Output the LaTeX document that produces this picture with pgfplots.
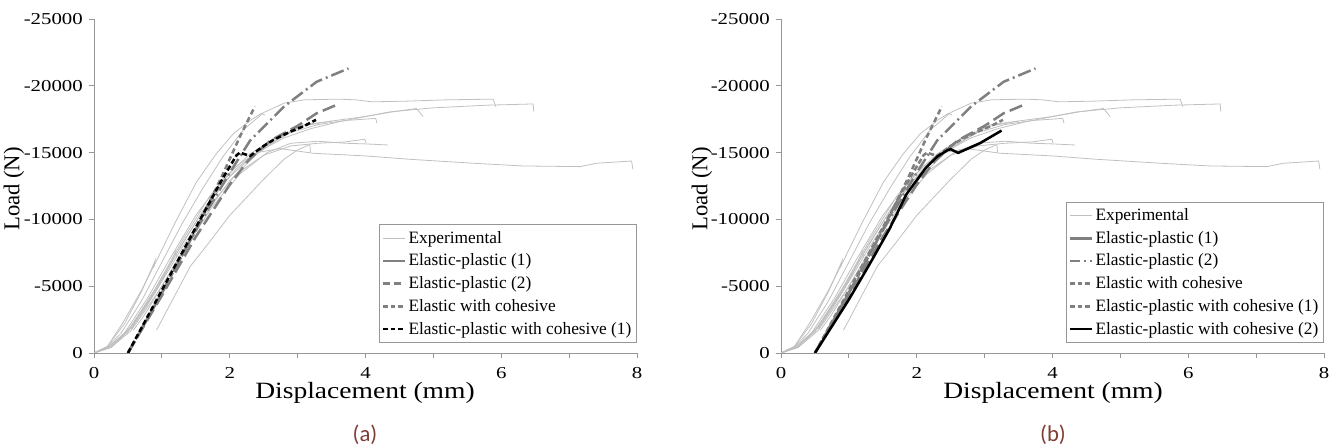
\documentclass[border=0pt]{standalone}
\usepackage{pgfplots}
\pgfplotsset{compat=1.18}
\usepackage{pgfplotstable}
\usepackage{fontspec}
\setmainfont{Liberation Serif}
\newfontfamily\capfont{Carlito}
\definecolor{expgray}{RGB}{192,192,192}
\definecolor{simgray}{RGB}{128,128,128}
\definecolor{capcol}{RGB}{128,60,55}
\definecolor{axgray}{RGB}{150,150,150}

% Experimental curves (displacement mm, load N)
\pgfplotstableread{
x y
0 0
0.2 -500
0.43 -2300
0.7 -4700
0.92 -6900
1.2 -9800
1.51 -12800
1.8 -14900
2.05 -16400
2.3 -17400
2.47 -17950
2.52 -17800
}\expA
\pgfplotstableread{
x y
0 0
0.2 -450
0.4 -1500
0.7 -3900
1.0 -6800
1.3 -9700
1.6 -12300
1.9 -14700
2.2 -16700
2.5 -18000
2.8 -18700
3.1 -18950
3.6 -19000
3.85 -18950
4.1 -18800
4.6 -18850
5.2 -18950
5.88 -19000
5.92 -18440
}\expB
\pgfplotstableread{
x y
0 0
0.2 -400
0.45 -1500
0.8 -4200
1.1 -6900
1.5 -10300
1.9 -13000
2.3 -14900
2.7 -16200
3.1 -17000
3.48 -17350
4.0 -17700
4.36 -18050
5.0 -18350
5.8 -18550
6.47 -18640
6.48 -18060
}\expC
\pgfplotstableread{
x y
0 0
0.25 -500
0.5 -1700
0.8 -3900
1.2 -7300
1.6 -10600
2.0 -13200
2.4 -15000
2.8 -16100
3.2 -16800
3.6 -17300
4.0 -17700
4.4 -18050
4.75 -18300
4.85 -17700
}\expD
\pgfplotstableread{
x y
0 0
0.25 -450
0.5 -1600
0.9 -4600
1.3 -8200
1.7 -11400
2.1 -13800
2.5 -15400
2.9 -16500
3.3 -17100
3.7 -17400
4.15 -17560
4.17 -17190
}\expE
\pgfplotstableread{
x y
0 0
0.25 -450
0.55 -1900
0.9 -4500
1.3 -7900
1.7 -11000
2.1 -13400
2.5 -14800
2.9 -15500
3.3 -15700
3.7 -15800
3.99 -16000
4.01 -15700
}\expF
\pgfplotstableread{
x y
0 0
0.25 -400
0.55 -1700
0.95 -4600
1.35 -7900
1.75 -11000
2.15 -13400
2.55 -15000
2.9 -15700
3.3 -15850
3.7 -15700
4.0 -15650
4.33 -15570
}\expG
\pgfplotstableread{
x y
0 0
0.25 -500
0.55 -2000
0.9 -4800
1.3 -8400
1.7 -11700
2.1 -14000
2.4 -15000
2.74 -15300
3.23 -14950
4.0 -14750
4.65 -14500
5.6 -14200
6.32 -14000
7.16 -13950
7.4 -14200
7.92 -14370
7.94 -13750
}\expH
\pgfplotstableread{
x y
0.92 -1700
1.42 -6500
1.7 -8300
2.0 -10300
2.49 -12950
2.8 -14500
3.0 -15200
3.18 -15600
3.19 -15000
}\expI
\pgfplotstableread{
x y
0.58 -1700
0.75 -2900
1.0 -5000
1.3 -7600
1.6 -10100
2.0 -12900
2.4 -14900
2.8 -16300
3.1 -17100
3.5 -17350
}\expJ
\pgfplotstableread{
x y
0 0
0.2 -500
0.45 -2200
0.7 -4600
0.9 -6900
0.88 -6400
}\expK
\pgfplotstableread{
x y
0.55 -1800
0.8 -3700
1.05 -5900
1.2 -7600
1.22 -7100
}\expL

% Simulations
\pgfplotstableread{
x y
0.5 0
1.0 -4300
1.5 -8700
2.0 -12600
2.27 -14400
2.6 -15900
3.0 -17000
3.28 -17940
3.57 -18560
}\simEPone
\pgfplotstableread{
x y
0.5 0
1.0 -4500
1.5 -9200
2.0 -13500
2.3 -15900
2.8 -18450
3.28 -20300
3.75 -21300
}\simEPtwo
\pgfplotstableread{
x y
0.5 0
1.0 -4500
1.5 -9200
1.9 -13400
2.15 -16200
2.37 -18450
}\simEC
\pgfplotstableread{
x y
0.5 0
1.0 -4700
1.5 -9400
1.9 -13100
2.1 -14800
2.15 -15000
2.3 -14750
2.5 -15500
2.64 -15940
2.89 -16560
3.1 -17000
3.27 -17450
}\simEPCone
\pgfplotstableread{
x y
0.5 0
1.0 -4000
1.3 -6600
1.6 -9300
1.85 -11900
2.14 -13900
2.3 -14700
2.46 -15200
2.5 -15250
2.61 -14980
2.93 -15700
3.25 -16650
}\simEPCtwo

\pgfplotsset{
  myaxis/.style={
    scale only axis, width=407.25pt, height=250.5pt,
    xmin=0, xmax=8, ymin=-25000, ymax=0, y dir=reverse,
    axis lines=left, axis line style={-, draw=axgray, line width=0.6pt},
    xtick={0,2,4,6,8}, minor xtick={1,3,5,7},
    ytick={-25000,-20000,-15000,-10000,-5000,0},
    scaled y ticks=false, scaled x ticks=false,
    tick align=outside, major tick length=4pt, minor tick length=4pt,
    every tick/.style={draw=axgray, line width=0.6pt},
    minor tick style={draw=axgray, line width=0.6pt},
    /pgf/number format/assume math mode=true,
    /pgf/number format/1000 sep={},
    /pgf/number format/fixed,
    ticklabel style={font=\fontsize{12.5}{14}\selectfont, xscale=1.25},
    xticklabel style={yshift=-3pt},
    legend cell align=left,
    legend style={draw=axgray, fill=white, font=\fontsize{13}{15}\selectfont,
      row sep=2.5pt, inner xsep=2pt, inner ysep=3pt, at={(1.0,0.03)}, anchor=south east},
    legend image code/.code={\draw[##1] (0pt,0pt) -- (16pt,0pt);},
  },
  exp/.style={draw=expgray, line width=0.6pt, no marks},
  ep1/.style={draw=simgray, line width=1.9pt, no marks, dash pattern=on 10pt off 4pt},
  ep2/.style={draw=simgray, line width=1.9pt, no marks, dash pattern=on 10pt off 3pt on 1.5pt off 3pt},
  ec/.style={draw=simgray, line width=1.9pt, no marks, dash pattern=on 4pt off 2.5pt},
  epc1b/.style={draw=black, line width=1.9pt, no marks, dash pattern=on 4pt off 2pt},
  epc1g/.style={draw=simgray, line width=1.9pt, no marks, dash pattern=on 4pt off 2pt},
  epc2/.style={draw=black, line width=1.9pt, no marks},
}
\newcommand{\expcurves}{%
  \addplot[exp] table {\expA};
  \addlegendentry{Experimental}
  \addplot[exp, forget plot] table {\expB};
  \addplot[exp, forget plot] table {\expC};
  \addplot[exp, forget plot] table {\expD};
  \addplot[exp, forget plot] table {\expE};
  \addplot[exp, forget plot] table {\expF};
  \addplot[exp, forget plot] table {\expG};
  \addplot[exp, forget plot] table {\expH};
  \addplot[exp, forget plot] table {\expI};
  \addplot[exp, forget plot] table {\expJ};
  \addplot[exp, forget plot] table {\expK};
  \addplot[exp, forget plot] table {\expL};
}

\begin{document}
\begin{tikzpicture}
\path[use as bounding box] (0pt,0pt) rectangle (1002.75pt,336pt);

\begin{axis}[myaxis, at={(70.5pt,71.25pt)}, anchor=south west]
\expcurves
\addplot[ep1, forget plot] table {\simEPone};
\addplot[ep2, forget plot] table {\simEPtwo};
\addplot[ec, forget plot] table {\simEC};
\addplot[epc1b, forget plot] table {\simEPCone};
\addlegendimage{draw=simgray, line width=1.9pt}
\addlegendentry{Elastic-plastic (1)}
\addlegendimage{draw=simgray, line width=1.9pt, dash pattern=on 5pt off 3pt}
\addlegendentry{Elastic-plastic (2)}
\addlegendimage{draw=simgray, line width=1.9pt, dash pattern=on 3.5pt off 2pt}
\addlegendentry{Elastic with cohesive}
\addlegendimage{draw=black, line width=1.9pt, dash pattern=on 3.5pt off 2pt}
\addlegendentry{Elastic-plastic with cohesive (1)}
\end{axis}

\begin{axis}[myaxis, at={(585.75pt,71.25pt)}, anchor=south west]
\expcurves
\addplot[ep1, forget plot] table {\simEPone};
\addplot[ep2, forget plot] table {\simEPtwo};
\addplot[ec, forget plot] table {\simEC};
\addplot[epc1g, forget plot] table {\simEPCone};
\addplot[epc2, forget plot] table {\simEPCtwo};
\addlegendimage{draw=simgray, line width=1.9pt}
\addlegendentry{Elastic-plastic (1)}
\addlegendimage{draw=simgray, line width=1.9pt, dash pattern=on 7pt off 3pt on 1.5pt off 3pt}
\addlegendentry{Elastic-plastic (2)}
\addlegendimage{draw=simgray, line width=1.9pt, dash pattern=on 3.5pt off 2pt}
\addlegendentry{Elastic with cohesive}
\addlegendimage{draw=simgray, line width=1.9pt, dash pattern=on 3.5pt off 2pt}
\addlegendentry{Elastic-plastic with cohesive (1)}
\addlegendimage{draw=black, line width=1.9pt}
\addlegendentry{Elastic-plastic with cohesive (2)}
\end{axis}

\node[rotate=90, font=\fontsize{17}{19}\selectfont] at (10.5pt,194.25pt) {Load (N)};
\node[font=\fontsize{17.5}{19}\selectfont, xscale=1.18] at (273.75pt,41.25pt) {Displacement (mm)};
\node[font=\capfont\fontsize{17}{19}\selectfont, text=capcol] at (273.75pt,9.75pt) {(a)};
\node[rotate=90, font=\fontsize{17}{19}\selectfont] at (526.5pt,194.25pt) {Load (N)};
\node[font=\fontsize{17.5}{19}\selectfont, xscale=1.18] at (789.75pt,41.25pt) {Displacement (mm)};
\node[font=\capfont\fontsize{17}{19}\selectfont, text=capcol] at (789.75pt,9.75pt) {(b)};
\end{tikzpicture}
\end{document}
